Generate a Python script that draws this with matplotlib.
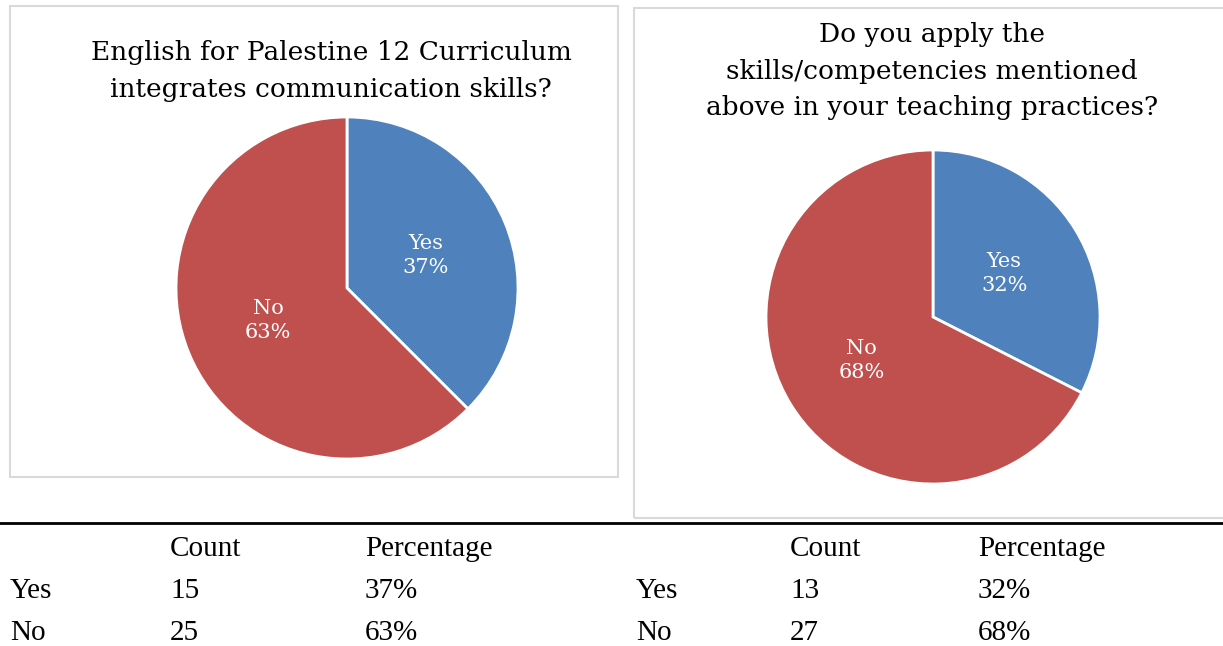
import matplotlib
matplotlib.use('Agg')
import matplotlib.pyplot as plt
from matplotlib.patches import Rectangle
from matplotlib.lines import Line2D

# survey answers
answers = ['Yes', 'No']
counts_q1 = [15, 25]
pct_q1 = [37, 63]
counts_q2 = [13, 27]
pct_q2 = [32, 68]
title_q1 = ['English for Palestine 12 Curriculum', 'integrates communication skills?']
title_q2 = ['Do you apply the', 'skills/competencies mentioned',
            'above in your teaching practices?']
col_heads = ['Count', 'Percentage']

colors = ['#4F81BD', '#C0504D']
W, H = 1223, 646
plt.rcParams['font.family'] = ['Liberation Serif', 'DejaVu Serif']
chart_font = 'DejaVu Serif'

fig = plt.figure(figsize=(W / 100, H / 100), dpi=100)


def px(x, y):
    # pixel coords (top-left origin) -> figure fraction
    return x / W, 1 - y / H


def panel(x0, y0, x1, y1):
    fig.patches.append(Rectangle(px(x0, y1), (x1 - x0) / W, (y1 - y0) / H,
                                 transform=fig.transFigure, fill=False,
                                 edgecolor='#d9d9d9', linewidth=1.5))


def pie(cx, cy, r, counts, pcts, title, tx, ty0):
    left, bottom = px(cx - r, cy + r)
    ax = fig.add_axes([left, bottom, 2 * r / W, 2 * r / H])
    labels = [f'{a}\n{p}%' for a, p in zip(answers, pcts)]
    _, texts = ax.pie(counts, colors=colors, startangle=90, counterclock=False,
                      labels=labels, labeldistance=0.5,
                      wedgeprops=dict(edgecolor='white', linewidth=2))
    for t in texts:
        t.set_color('white'); t.set_fontsize(15); t.set_family(chart_font)
        t.set_ha('center'); t.set_va('center'); t.set_linespacing(1.35)
    ax.set_xlim(-1, 1); ax.set_ylim(-1, 1)
    for i, line in enumerate(title):
        fig.text(*px(tx, ty0 + i * 36.5), line, ha='center', va='baseline',
                 fontsize=19, family=chart_font)


panel(10, 6, 618, 477)
panel(634, 8, 1240, 518)
pie(347, 288, 171, counts_q1, pct_q1, title_q1, 331, 60)
pie(933, 317, 167, counts_q2, pct_q2, title_q2, 932, 42)

fig.lines.append(Line2D([0, 1], [1 - 523 / H] * 2, transform=fig.transFigure,
                        color='black', linewidth=2))


def table(x_lab, x_cnt, x_pct, counts, pcts):
    fs = 21
    fig.text(*px(x_cnt, 556), col_heads[0], ha='left', va='baseline', fontsize=fs)
    fig.text(*px(x_pct, 556), col_heads[1], ha='left', va='baseline', fontsize=fs)
    for i, (a, c, p) in enumerate(zip(answers, counts, pcts)):
        y = 598 + i * 42
        fig.text(*px(x_lab, y), a, ha='left', va='baseline', fontsize=fs)
        fig.text(*px(x_cnt, y), str(c), ha='left', va='baseline', fontsize=fs)
        fig.text(*px(x_pct, y), f'{p}%', ha='left', va='baseline', fontsize=fs)


table(10, 170, 365, counts_q1, pct_q1)
table(636, 790, 978, counts_q2, pct_q2)

fig.savefig('out.png', dpi=100)
